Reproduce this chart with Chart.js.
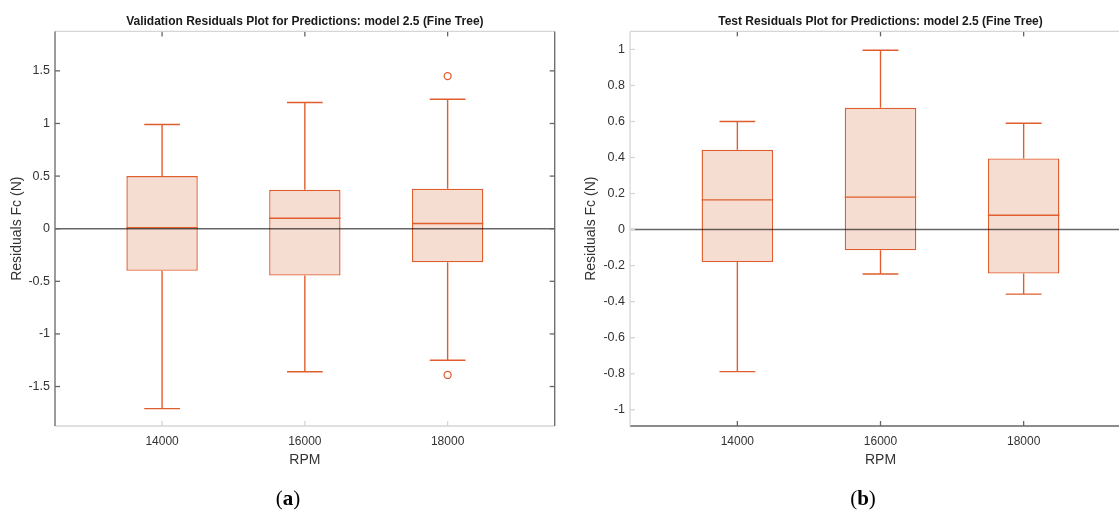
<!DOCTYPE html>
<html>
<head>
<meta charset="utf-8">
<script src="https://cdn.jsdelivr.net/npm/chart.js@4"></script>
<style>
  html, body { margin: 0; padding: 0; background: #fff; overflow: hidden; }
  body { width: 1119px; height: 510px; position: relative; }
  .panel { position: absolute; top: 0; height: 510px; }
  #left { left: 0; width: 560px; }
  #right { left: 560px; width: 574px; }
  .tag { position: absolute; top: 498px; transform: translate(-50%, -50%);
         font-family: 'Liberation Serif', serif; font-size: 21px; color: #000; }
</style>
</head>
<body>
<div class="panel" id="left"><canvas id="valChart"></canvas></div>
<div class="panel" id="right"><canvas id="testChart"></canvas></div>
<div class="tag" style="left:288px">(<b>a</b>)</div>
<div class="tag" style="left:863px">(<b>b</b>)</div>
<script>
// RPM groups
const rpm = [14000, 16000, 18000];
const xTicks = [14000, 16000, 18000];

// validation residuals (box stats per rpm)
const valHigh = [0.99, 1.20, 1.23];
const valQ3 = [0.50, 0.37, 0.38];
const valMedian = [0.01, 0.10, 0.05];
const valQ1 = [-0.40, -0.445, -0.32];
const valLow = [-1.71, -1.36, -1.25];
const valOutlierX = [18000, 18000];
const valOutlierY = [1.45, -1.39];
const valYTicks = [-1.5, -1, -0.5, 0, 0.5, 1, 1.5];

// test residuals
const testHigh = [0.60, 0.995, 0.59];
const testQ3 = [0.443, 0.676, 0.395];
const testMedian = [0.165, 0.18, 0.08];
const testQ1 = [-0.18, -0.115, -0.244];
const testLow = [-0.788, -0.246, -0.358];
const testOutlierX = [];
const testOutlierY = [];
const testYTicks = [-1, -0.8, -0.6, -0.4, -0.2, 0, 0.2, 0.4, 0.6, 0.8, 1];

const X_MIN = 12500, X_MAX = 19500;
const BOX_HALF = 500, CAP_HALF = 250;
const ORANGE = 'rgb(224,94,45)';
const FILL = 'rgb(246,221,210)';
const DARK = '#666666';
const LIGHT = '#d6d6d6';
const TEXT = '#333333';
const FONT = "'Liberation Sans', Arial, sans-serif";

// box frame with inward ticks (matlab style)
const framePlugin = {
  id: 'frame',
  afterDatasetsDraw(chart, args, opts) {
    const { ctx, chartArea: a, scales: { x, y } } = chart;
    const TL = 5;
    const s = opts.sides;
    const line = (c, x1, y1, x2, y2) => {
      ctx.strokeStyle = c;
      ctx.beginPath(); ctx.moveTo(x1, y1); ctx.lineTo(x2, y2); ctx.stroke();
    };
    ctx.save();
    ctx.lineWidth = 1.3;
    x.ticks.forEach(t => {
      const px = x.getPixelForValue(t.value);
      line(DARK, px, a.top, px, a.top + TL);
      line(s.bottom, px, a.bottom, px, a.bottom - TL);
    });
    y.ticks.forEach(t => {
      const py = y.getPixelForValue(t.value);
      line(s.left, a.left, py, a.left + TL, py);
      line(s.right, a.right, py, a.right - TL, py);
    });
    line(s.top, a.left, a.top, a.right, a.top);
    line(s.bottom, a.left, a.bottom, a.right, a.bottom);
    line(s.left, a.left, a.top, a.left, a.bottom);
    line(s.right, a.right, a.top, a.right, a.bottom);
    ctx.restore();
  }
};

function boxplot(id, o) {
  const boxes = rpm.map((x, i) => ({ x, y: [o.q1[i], o.q3[i]] }));
  const whiskers = [];
  const medians = [];
  rpm.forEach((x, i) => {
    whiskers.push({ x, y: o.q3[i] }, { x, y: o.hi[i] }, { x, y: null });
    whiskers.push({ x, y: o.q1[i] }, { x, y: o.lo[i] }, { x, y: null });
    whiskers.push({ x: x - CAP_HALF, y: o.hi[i] }, { x: x + CAP_HALF, y: o.hi[i] }, { x, y: null });
    whiskers.push({ x: x - CAP_HALF, y: o.lo[i] }, { x: x + CAP_HALF, y: o.lo[i] }, { x, y: null });
    medians.push({ x: x - BOX_HALF, y: o.med[i] }, { x: x + BOX_HALF, y: o.med[i] }, { x, y: null });
  });
  const outliers = o.outX.map((x, i) => ({ x, y: o.outY[i] }));

  return new Chart(document.getElementById(id), {
    type: 'bar',
    data: {
      datasets: [
        {
          type: 'line',
          data: [{ x: X_MIN, y: 0 }, { x: X_MAX, y: 0 }],
          borderColor: 'rgba(0,0,0,0.6)',
          borderWidth: 1.5,
          pointRadius: 0,
          order: 0,
        },
        {
          type: 'line',
          data: outliers,
          showLine: false,
          pointRadius: 3.5,
          pointBorderWidth: 1.3,
          pointBorderColor: ORANGE,
          pointBackgroundColor: 'rgba(0,0,0,0)',
          order: 1,
        },
        {
          type: 'line',
          data: medians,
          borderColor: ORANGE,
          borderWidth: 1.4,
          pointRadius: 0,
          spanGaps: false,
          order: 2,
        },
        {
          type: 'line',
          data: whiskers,
          borderColor: ORANGE,
          borderWidth: 1.4,
          pointRadius: 0,
          spanGaps: false,
          order: 3,
        },
        {
          type: 'bar',
          data: boxes,
          backgroundColor: FILL,
          borderColor: ORANGE,
          borderWidth: 1.4,
          borderSkipped: false,
          barPercentage: 0.5,
          categoryPercentage: 1,
          order: 4,
        },
      ],
    },
    options: {
      responsive: true,
      maintainAspectRatio: false,
      animation: false,
      layout: { padding: { left: 0, right: 3, top: 0, bottom: 0 } },
      plugins: {
        legend: { display: false },
        tooltip: { enabled: false },
        title: {
          display: true,
          text: o.title,
          fullSize: false,
          color: '#1a1a1a',
          font: { family: FONT, size: 12, weight: 'bold' },
          padding: { top: 14, bottom: 3 },
        },
        frame: { sides: o.sides },
      },
      scales: {
        x: {
          type: 'linear',
          min: X_MIN,
          max: X_MAX,
          offset: false,
          afterBuildTicks: (s) => { s.ticks = xTicks.map(v => ({ value: v })); },
          afterFit: (s) => { s.height = 84; },
          grid: { display: false, drawTicks: false },
          border: { display: false },
          ticks: {
            color: TEXT, font: { family: FONT, size: 12 }, padding: 8, maxRotation: 0,
            callback: (v) => String(v),
          },
          title: {
            display: true, text: 'RPM', color: TEXT,
            font: { family: FONT, size: 14 }, padding: { top: 0, bottom: 41 },
          },
        },
        y: {
          type: 'linear',
          min: o.yMin,
          max: o.yMax,
          afterBuildTicks: (s) => { s.ticks = o.yTicks.map(v => ({ value: v })); },
          afterFit: (s) => { s.width = o.yWidth; },
          grid: { display: false, drawTicks: false },
          border: { display: false },
          ticks: {
            color: TEXT, font: { family: FONT, size: 12.5 }, padding: 5,
            callback: (v) => String(v),
          },
          title: {
            display: true, text: 'Residuals Fc (N)', color: TEXT,
            font: { family: FONT, size: 14 }, padding: { top: o.yTitlePad, bottom: 0 },
          },
        },
      },
    },
    plugins: [framePlugin],
  });
}

boxplot('valChart', {
  title: 'Validation Residuals Plot for Predictions: model 2.5 (Fine Tree)',
  hi: valHigh, q3: valQ3, med: valMedian, q1: valQ1, lo: valLow,
  outX: valOutlierX, outY: valOutlierY,
  yTicks: valYTicks, yMin: -1.875, yMax: 1.875,
  yWidth: 55, yTitlePad: 9,
  sides: { left: DARK, right: DARK, top: LIGHT, bottom: LIGHT },
});

boxplot('testChart', {
  title: 'Test Residuals Plot for Predictions: model 2.5 (Fine Tree)',
  hi: testHigh, q3: testQ3, med: testMedian, q1: testQ1, lo: testLow,
  outX: testOutlierX, outY: testOutlierY,
  yTicks: testYTicks, yMin: -1.09, yMax: 1.1,
  yWidth: 70, yTitlePad: 23,
  sides: { left: LIGHT, right: LIGHT, top: LIGHT, bottom: DARK },
});
</script>
</body>
</html>
